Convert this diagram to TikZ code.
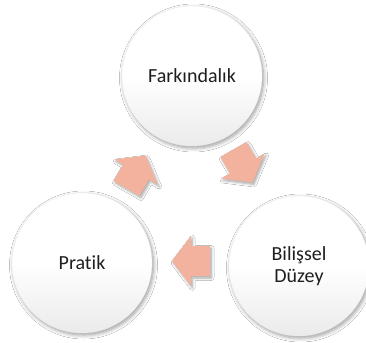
\documentclass[tikz,border=0pt]{standalone}
\usepackage{fontspec}
\setmainfont{Carlito}[Ligatures=NoCommon]
\usetikzlibrary{shadows.blur}
\definecolor{arrowfill}{RGB}{243,178,157}
\definecolor{txt}{RGB}{30,30,30}
\begin{document}
\begin{tikzpicture}[x=1pt,y=-1pt,
  circ/.style={circle, minimum size=140pt, inner sep=0pt, draw=black!8, line width=0.3pt,
    top color=white, bottom color=black!8, middle color=white,
    blur shadow={shadow xshift=1.5pt, shadow yshift=-2pt, shadow blur steps=8, shadow blur radius=4pt, shadow opacity=40},
    font=\fontsize{20}{22}\selectfont, text=txt, align=center},
  barrow/.style={fill=arrowfill,
    blur shadow={shadow xshift=1.5pt, shadow yshift=-2pt, shadow blur steps=6, shadow blur radius=2.5pt, shadow opacity=35}}
]
\fill[white] (0,0) rectangle (366,342);
\useasboundingbox (0,0) rectangle (366,342);
\clip (0,0) rectangle (366,342);

\node[circ] (fark) at (192,76) {Farkındalık};
\node[circ] (bil) at (299,266) {Bilişsel\\Düzey};
\node[circ] (pra) at (82,263) {Pratik};

\coordinate (a1) at (243,166);
\coordinate (a2) at (191,261);
\coordinate (a3) at (136,172);

\fill[barrow, shift={(a1)}, rotate=-60] (-19,-15) -- (0,-15) -- (0,-25) -- (19,0) -- (0,25) -- (0,15) -- (-19,15) -- cycle;
\fill[barrow, shift={(a2)}, rotate=180] (-19,-15) -- (0,-15) -- (0,-25) -- (19,0) -- (0,25) -- (0,15) -- (-19,15) -- cycle;
\fill[barrow, shift={(a3)}, rotate=60] (-19,-15) -- (0,-15) -- (0,-25) -- (19,0) -- (0,25) -- (0,15) -- (-19,15) -- cycle;
\end{tikzpicture}
\end{document}
